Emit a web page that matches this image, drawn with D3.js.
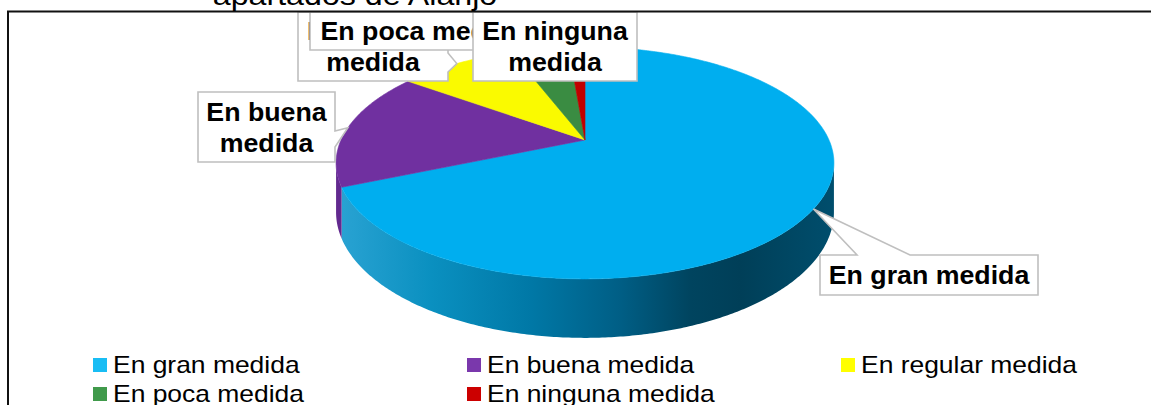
<!DOCTYPE html>
<html>
<head>
<meta charset="utf-8">
<script src="https://cdn.jsdelivr.net/npm/d3@7"></script>
<style>
  body { margin: 0; background: #fff; }
  svg { display: block; }
  text { font-family: "Liberation Sans", Arial, sans-serif; }
</style>
</head>
<body>
<div id="chart"></div>
<script>
// data
let categories = ["En gran medida", "En buena medida", "En regular medida", "En poca medida", "En ninguna medida"];
let values = [68.6, 16.4, 9.2, 4.5, 1.3];
let labelLines = [["En gran medida"], ["En buena", "medida"], ["En regular", "medida"], ["En poca medida"], ["En ninguna", "medida"]];
let titleText = "apartados de Alanjo";

let width = 1151;
let height = 405;

// colours
let topColors = ["#00AEEF", "#7030A0", "#FAFA00", "#3A8C42", "#C00000"];
let keyColors = ["#19BDF4", "#7A38AC", "#FFFF00", "#409A4B", "#CC0000"];
let sideColors = ["url(#sideBlue)", "#62298F", "#B0B000", "#28602D", "#800000"];

// 3d pie geometry (perspective ellipse)
let cx = 585, cy = 140, rx = 244, ry = 111.4, persp = 0.198, depth = 47.3;

function proj(a, h) {
    let u = Math.sin(a), v = -Math.cos(a);
    let w = 1 / (1 - persp * v);
    return [cx + rx * u * w, cy + ry * v * w + h * depth * w];
}

function arcPoints(a0, a1, h) {
    let n = Math.max(2, Math.ceil((a1 - a0) / 0.01));
    return d3.range(n + 1).map(i => proj(a0 + (a1 - a0) * i / n, h));
}

let svg = d3.select("#chart")
    .append("svg")
    .attr("width", width)
    .attr("height", height);

let defs = svg.append("defs");
let grad = defs.append("linearGradient")
    .attr("id", "sideBlue")
    .attr("gradientUnits", "userSpaceOnUse")
    .attr("x1", 337).attr("x2", 835).attr("y1", 0).attr("y2", 0);
[[0, "#2AA3D3"], [0.19, "#0A90C0"], [0.39, "#0078A6"], [0.57, "#005E85"], [0.71, "#00445F"], [0.81, "#003F58"], [1, "#004E6D"]]
    .forEach(s => grad.append("stop").attr("offset", s[0]).attr("stop-color", s[1]));

let pie = d3.pie().value(d => d).sort(null);
let arcs = pie(values);

let line = d3.line();

// visible front side: between the two silhouette points
let sideA0 = Math.acos(-persp);
let sideA1 = 2 * Math.PI - sideA0;

let sideG = svg.append("g");
arcs.forEach((d, i) => {
    let s0 = Math.max(d.startAngle, sideA0);
    let s1 = Math.min(d.endAngle, sideA1);
    if (s1 <= s0) return;
    let pts = arcPoints(s0, s1, 0).concat(arcPoints(s0, s1, 1).reverse());
    sideG.append("path")
        .attr("d", line(pts) + "Z")
        .attr("fill", sideColors[i]);
});

let topG = svg.append("g");
arcs.forEach((d, i) => {
    let pts = [[cx, cy]].concat(arcPoints(d.startAngle, d.endAngle, 0));
    topG.append("path")
        .attr("d", line(pts) + "Z")
        .attr("fill", topColors[i])
        .attr("stroke", topColors[i])
        .attr("stroke-width", 0.6);
});

// data callouts
let calloutBoxes = [
    {x: 820, y: 255, w: 218, h: 40, side: "top", b0: 857, b1: 910},
    {x: 198, y: 92, w: 137, h: 70, side: "right", b0: 131, b1: 147},
    {x: 298, y: 12, w: 150, h: 69, side: "right", b0: 53, b1: 72},
    {x: 310, y: 12, w: 226, h: 38, side: null},
    {x: 473, y: 12, w: 164, h: 69, side: null}
];

function calloutPath(b, tip) {
    let p;
    if (b.side === "top") {
        p = [[b.x, b.y], [b.b0, b.y], tip, [b.b1, b.y], [b.x + b.w, b.y], [b.x + b.w, b.y + b.h], [b.x, b.y + b.h]];
    } else if (b.side === "right") {
        p = [[b.x, b.y], [b.x + b.w, b.y], [b.x + b.w, b.b0], tip, [b.x + b.w, b.b1], [b.x + b.w, b.y + b.h], [b.x, b.y + b.h]];
    } else {
        p = [[b.x, b.y], [b.x + b.w, b.y], [b.x + b.w, b.y + b.h], [b.x, b.y + b.h]];
    }
    return line(p) + "Z";
}

let labelG = svg.append("g");
arcs.forEach((d, i) => {
    let b = calloutBoxes[i];
    let tip = proj((d.startAngle + d.endAngle) / 2, 0);
    let g = labelG.append("g");
    g.append("path")
        .attr("d", calloutPath(b, tip))
        .attr("fill", "#fff")
        .attr("stroke", "#BFBFBF")
        .attr("stroke-width", 1.6)
        .attr("stroke-linejoin", "miter");
    let lines = labelLines[i];
    let lh = 31;
    let mid = b.y + b.h / 2;
    lines.forEach((t, j) => {
        let by = mid + 9 + (j - (lines.length - 1) / 2) * lh;
        g.append("text")
            .attr("transform", "translate(" + (b.x + b.w / 2) + "," + by + ") scale(1.07,1)")
            .attr("text-anchor", "middle")
            .style("font-size", "25px")
            .style("font-weight", "bold")
            .attr("fill", "#000")
            .text(t);
    });
});

// plot border
svg.append("rect")
    .attr("x", 8)
    .attr("y", 11.5)
    .attr("width", 1300)
    .attr("height", 600)
    .attr("fill", "none")
    .attr("stroke", "#111")
    .attr("stroke-width", 2);

// title (last visible line)
svg.append("text")
    .attr("transform", "translate(355,5) scale(1.15,1)")
    .attr("text-anchor", "middle")
    .style("font-size", "28px")
    .attr("fill", "#000")
    .text(titleText);

// legend
let colX = d3.scaleLinear().domain([0, 1]).range([93, 467]);
let rowY = d3.scaleLinear().domain([0, 1]).range([358, 387]);

let legendG = svg.selectAll(".legend")
    .data(categories)
    .enter().append("g")
    .attr("class", "legend")
    .attr("transform", (d, i) => "translate(" + colX(i % 3) + "," + rowY(Math.floor(i / 3)) + ")");

legendG.append("rect")
    .attr("width", 14)
    .attr("height", 14)
    .attr("fill", (d, i) => keyColors[i]);

legendG.append("text")
    .attr("transform", "translate(20,14.5) scale(1.15,1)")
    .style("font-size", "23px")
    .attr("fill", "#000")
    .text(d => d);
</script>
</body>
</html>
